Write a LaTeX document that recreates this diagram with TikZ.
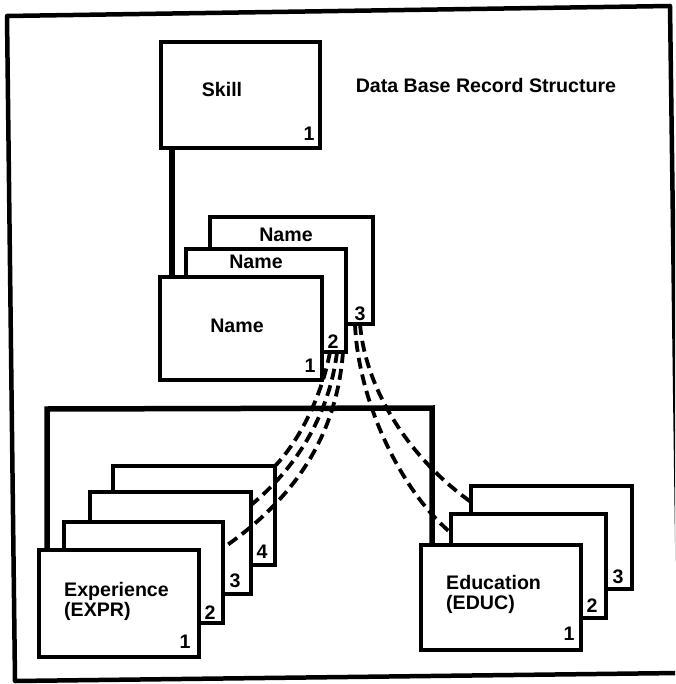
\documentclass[tikz,border=0pt]{standalone}
\usepackage{fontspec}
\setmainfont{Liberation Sans}
\usetikzlibrary{fit,calc}
\begin{document}
\begin{tikzpicture}[x=1pt,y=-1pt,
  rec/.style={draw, fill=white, line width=3.2pt, inner sep=0pt, outer sep=0pt},
  conn/.style={line width=5.5pt},
  dashlink/.style={line width=3.8pt, dash pattern=on 11pt off 6pt},
  lbl/.style={font=\fontsize{19.6}{21}\selectfont\bfseries, inner sep=0pt, anchor=base},
  lblw/.style={lbl, anchor=base west},
  framebox/.style={line width=4.5pt, line join=round}]
\useasboundingbox (0,0) rectangle (675,684);
\clip (0,0) rectangle (675,684);
\fill[white] (0,0) rectangle (675,684);
\draw[framebox] (7,16) -- (670,6) -- (679,673) -- (15,681) -- cycle;

% title
\node[lbl] (title) at (486,93) {Data Base Record Structure};

% root
\node[rec, fit={(161,42) (320,148)}] (skill) {};
\node[lbl] (skilltxt) at (222,97) {Skill};
\node[lbl] (skillnum) at (309,141) {1};

% Name twins
\node[rec, fit={(210,217) (373,324)}] (name3) {};
\node[lbl] (name3txt) at (286,242) {Name};
\node[lbl] (name3num) at (360,320) {3};
\node[rec, fit={(186,249) (346,352)}] (name2) {};
\node[lbl] (name2txt) at (256,268) {Name};
\node[lbl] (name2num) at (333,348) {2};
\node[rec, fit={(160,277) (322,380)}] (name1) {};
\node[lbl] (name1txt) at (237,332) {Name};
\node[lbl] (name1num) at (310,372) {1};

% Experience twins
\node[rec, fit={(113,466) (275,565)}] (expr4) {};
\node[lbl] (expr4num) at (262,558) {4};
\node[rec, fit={(90,492) (251,594)}] (expr3) {};
\node[lbl] (expr3num) at (235,587) {3};
\node[rec, fit={(64,522) (223,623)}] (expr2) {};
\node[lbl] (expr2num) at (210,619) {2};
\node[rec, fit={(39,550) (199,657)}] (expr1) {};
\node[lbl] (expr1num) at (185,648) {1};
\node[lblw] (exprtxt) at (64,596) {Experience};
\node[lblw] (exprtxt2) at (64,616) {(EXPR)};

% Education twins
\node[rec, fit={(471,486) (632,589)}] (educ3) {};
\node[lbl] (educ3num) at (618,583) {3};
\node[rec, fit={(451,514) (606,618)}] (educ2) {};
\node[lbl] (educ2num) at (592,612) {2};
\node[rec, fit={(421,545) (581,650)}] (educ1) {};
\node[lbl] (educ1num) at (569,640) {1};
\node[lblw] (eductxt) at (446,589) {Education};
\node[lblw] (eductxt2) at (446,609) {(EDUC)};

% hierarchy connectors
\draw[conn] ($(skill.south west)+(11,0)$) -- ($(name1.north west)+(12,0)$);
\coordinate (barL) at (47,409);
\coordinate (barR) at (432,408);
\draw[conn] ($(name1.south)+(6,0)$) -- ($(name1.south)+(6,0)$ |- barL);
\draw[conn, line join=miter] (barL |- expr1.north) -- (barL) -- (barR) -- (barR |- educ1.north);

% twin chains (dashed)
\draw[dashlink] ($(name2.south east)+(-16,0)$) .. controls (322,395) and (300,440) .. (expr4.north east);
\draw[dashlink] ($(name2.south east)+(-9,0)$) .. controls (330,410) and (300,465) .. ($(expr3.north east)+(0,13)$);
\draw[dashlink] ($(name2.south east)+(-3,0)$) .. controls (337,430) and (300,495) .. ($(expr2.north east)+(0,26)$);
\draw[dashlink] ($(name3.south east)+(-18,0)$) .. controls (358,400) and (400,490) .. ($(educ2.north west)+(0,19)$);
\draw[dashlink] ($(name3.south east)+(-13,0)$) .. controls (365,385) and (405,455) .. ($(educ3.north west)+(0,16)$);
\end{tikzpicture}
\end{document}
